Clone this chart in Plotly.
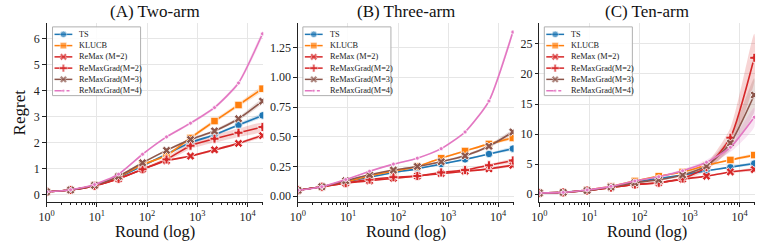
import numpy as np
import plotly.graph_objects as go

rounds = [1, 3, 9, 27, 81, 243, 729, 2187, 6561, 19683]
methods = ["TS", "KLUCB", "ReMax (M=2)", "ReMaxGrad(M=2)", "ReMaxGrad(M=3)", "ReMaxGrad(M=4)"]
colors = ["#1f77b4", "#ff7f0e", "#d62728", "#d62728", "#8c564b", "#e377c2"]
symbols = ["circle", "square", "x", "cross", "x", "circle"]
msizes = [7.5, 7.5, 7.5, 7.5, 7.5, 4]
titles = ["(A) Two-arm", "(B) Three-arm", "(C) Ten-arm"]

two_arm = [
    [0.10, 0.17, 0.33, 0.65, 1.10, 1.55, 2.00, 2.30, 2.68, 3.05],
    [0.10, 0.17, 0.35, 0.68, 1.15, 1.50, 2.18, 2.83, 3.45, 4.08],
    [0.10, 0.17, 0.33, 0.60, 0.97, 1.30, 1.48, 1.72, 1.97, 2.27],
    [0.10, 0.17, 0.33, 0.60, 0.97, 1.35, 1.88, 2.15, 2.38, 2.60],
    [0.10, 0.17, 0.35, 0.70, 1.22, 1.70, 2.12, 2.45, 2.92, 3.60],
    [0.10, 0.18, 0.38, 0.78, 1.55, 2.22, 2.75, 3.35, 4.30, 6.20],
]
three_arm = [
    [0.05, 0.08, 0.12, 0.16, 0.20, 0.23, 0.27, 0.31, 0.355, 0.40],
    [0.05, 0.08, 0.12, 0.17, 0.21, 0.25, 0.32, 0.38, 0.44, 0.49],
    [0.05, 0.08, 0.11, 0.13, 0.15, 0.17, 0.19, 0.21, 0.23, 0.26],
    [0.05, 0.08, 0.11, 0.14, 0.16, 0.17, 0.20, 0.22, 0.26, 0.30],
    [0.05, 0.08, 0.13, 0.18, 0.22, 0.25, 0.29, 0.34, 0.42, 0.54],
    [0.05, 0.08, 0.14, 0.21, 0.27, 0.32, 0.40, 0.54, 0.80, 1.38],
]
ten_arm = [
    [0.2, 0.3, 0.7, 1.2, 2.0, 2.6, 3.2, 3.9, 4.5, 5.1],
    [0.2, 0.3, 0.7, 1.3, 2.2, 3.0, 3.7, 4.8, 5.7, 6.5],
    [0.2, 0.3, 0.6, 1.1, 1.6, 1.9, 2.5, 3.0, 3.7, 4.1],
    [0.2, 0.3, 0.6, 1.1, 1.6, 1.9, 2.6, 4.5, 9.4, 22.7],
    [0.2, 0.3, 0.6, 1.2, 1.9, 2.4, 3.2, 4.7, 8.5, 16.5],
    [0.2, 0.3, 0.7, 1.3, 2.2, 2.9, 3.9, 5.3, 7.8, 12.8],
]
# half-widths of the shaded bands
two_arm_band = [
    [0, 0, 0.01, 0.02, 0.03, 0.04, 0.05, 0.05, 0.06, 0.06],
    [0, 0, 0.01, 0.02, 0.03, 0.05, 0.07, 0.08, 0.08, 0.08],
    [0, 0, 0.01, 0.02, 0.02, 0.03, 0.03, 0.04, 0.04, 0.05],
    [0, 0, 0.01, 0.02, 0.04, 0.08, 0.13, 0.15, 0.16, 0.16],
    [0, 0, 0.01, 0.02, 0.03, 0.04, 0.05, 0.06, 0.07, 0.08],
    [0, 0, 0.01, 0.02, 0.03, 0.04, 0.05, 0.06, 0.08, 0.10],
]
three_arm_band = [
    [0, 0, 0.003, 0.004, 0.005, 0.006, 0.007, 0.008, 0.009, 0.010],
    [0, 0, 0.003, 0.004, 0.005, 0.006, 0.008, 0.009, 0.010, 0.012],
    [0, 0, 0.003, 0.004, 0.005, 0.006, 0.006, 0.007, 0.008, 0.009],
    [0, 0, 0.003, 0.004, 0.005, 0.006, 0.007, 0.008, 0.010, 0.012],
    [0, 0, 0.003, 0.004, 0.005, 0.006, 0.008, 0.010, 0.012, 0.015],
    [0, 0, 0.003, 0.004, 0.005, 0.006, 0.008, 0.010, 0.015, 0.020],
]
ten_arm_band = [
    [0, 0, 0.05, 0.05, 0.08, 0.1, 0.1, 0.12, 0.15, 0.18],
    [0, 0, 0.05, 0.05, 0.08, 0.1, 0.12, 0.15, 0.18, 0.2],
    [0, 0, 0.05, 0.05, 0.08, 0.1, 0.1, 0.12, 0.15, 0.18],
    [0, 0, 0.05, 0.05, 0.1, 0.15, 0.25, 0.6, 1.6, 4.0],
    [0, 0, 0.05, 0.05, 0.1, 0.15, 0.25, 0.5, 1.2, 2.8],
    [0, 0, 0.05, 0.05, 0.1, 0.15, 0.25, 0.4, 0.8, 1.6],
]
panels = [two_arm, three_arm, ten_arm]
bands = [two_arm_band, three_arm_band, ten_arm_band]
y_ranges = [[-0.3, 6.62], [-0.05, 1.457], [-1.33, 28.5]]
y_ticks = [
    [0, 1, 2, 3, 4, 5, 6],
    [0, 0.25, 0.5, 0.75, 1.0, 1.25],
    [0, 5, 10, 15, 20, 25],
]
y_ticktext = [
    ["0", "1", "2", "3", "4", "5", "6"],
    ["0.00", "0.25", "0.50", "0.75", "1.00", "1.25"],
    ["0", "5", "10", "15", "20", "25"],
]
x_ticks = [1, 10, 100, 1000, 10000]
x_ticktext = ["10<sup>0</sup>", "10<sup>1</sup>", "10<sup>2</sup>", "10<sup>3</sup>", "10<sup>4</sup>"]

W, H = 761, 245
x_domains = [[39 / W, 258 / W], [293 / W, 511 / W], [537 / W, 755 / W]]
y_domain = [1 - 203 / H, 1 - 23 / H]
legend_left_px = [45, 298, 542]
legend_top_px = 27
legend_w_px, legend_h_px = 89, 69

FONT = "Liberation Serif"


def rgba(hexc, a):
    h = hexc.lstrip("#")
    return f"rgba({int(h[0:2],16)},{int(h[2:4],16)},{int(h[4:6],16)},{a})"


fig = go.Figure()
minor_vals = [m * 10 ** d for d in range(0, 5) for m in range(2, 10) if m * 10 ** d <= 20000]

for p in range(3):
    xa = "x" if p == 0 else f"x{p+1}"
    ya = "y" if p == 0 else f"y{p+1}"
    for i, name in enumerate(methods):
        vals = np.array(panels[p][i])
        bw = np.array(bands[p][i])
        fig.add_trace(go.Scatter(
            x=rounds + rounds[::-1],
            y=list(vals + bw) + list((vals - bw)[::-1]),
            xaxis=xa, yaxis=ya, fill="toself", fillcolor=rgba(colors[i], 0.2),
            line=dict(width=0, shape="spline", smoothing=0.6), mode="lines",
            hoverinfo="skip", showlegend=False,
        ))
    for i, name in enumerate(methods):
        fig.add_trace(go.Scatter(
            x=rounds, y=panels[p][i], name=name, xaxis=xa, yaxis=ya,
            mode="lines+markers",
            line=dict(color=colors[i], width=1.6, shape="spline", smoothing=0.6),
            marker=dict(symbol=symbols[i], size=msizes[i], color=colors[i],
                        line=dict(color="white", width=0.8)),
            showlegend=False,
        ))

# hand-drawn legends on an overlay axis measured in pixels
annotations = []
for p in range(3):
    L = legend_left_px[p]
    T = legend_top_px
    fig.add_trace(go.Scatter(
        x=[L, L + legend_w_px, L + legend_w_px, L, L],
        y=[T, T, T + legend_h_px, T + legend_h_px, T],
        xaxis="x4", yaxis="y4", mode="lines", fill="toself",
        fillcolor="rgba(255,255,255,0.85)", line=dict(color="#b0b0b0", width=1),
        hoverinfo="skip", showlegend=False,
    ))
    for i, name in enumerate(methods):
        yy = T + 7.5 + 11.3 * i
        fig.add_trace(go.Scatter(
            x=[L + 2, L + 11, L + 20], y=[yy, yy, yy], xaxis="x4", yaxis="y4",
            mode="lines+markers",
            line=dict(color=colors[i], width=1.5, dash="dashdot" if i == 5 else "solid"),
            marker=dict(symbol=symbols[i], size=[0, msizes[i] - 1, 0], color=colors[i],
                        line=dict(color="white", width=0.6)),
            hoverinfo="skip", showlegend=False,
        ))
        annotations.append(dict(
            text=name, x=L + 25, y=yy, xref="x4", yref="y4", xanchor="left", yanchor="middle",
            showarrow=False, font=dict(size=8.3, family=FONT, color="#222"),
        ))

layout = dict(
    width=W, height=H, margin=dict(l=0, r=0, t=0, b=0),
    plot_bgcolor="rgba(0,0,0,0)", paper_bgcolor="white",
    font=dict(family=FONT, color="#222"),
    showlegend=False,
)
for p in range(3):
    sx = "xaxis" if p == 0 else f"xaxis{p+1}"
    sy = "yaxis" if p == 0 else f"yaxis{p+1}"
    ya = "y" if p == 0 else f"y{p+1}"
    xa = "x" if p == 0 else f"x{p+1}"
    layout[sx] = dict(
        type="log", domain=x_domains[p], anchor=ya, range=[0, 4.31],
        tickvals=x_ticks, ticktext=x_ticktext, ticks="outside", ticklen=3.5,
        tickcolor="#222", tickfont=dict(size=12, family=FONT, color="#222"),
        showline=True, linecolor="#222", linewidth=1, mirror=False,
        showgrid=True, gridcolor="#e6e6e6", gridwidth=1, zeroline=False,
        minor=dict(tickvals=minor_vals, ticks="outside", ticklen=2, tickcolor="#222", showgrid=False),
    )
    layout[sy] = dict(
        domain=y_domain, anchor=xa, range=y_ranges[p],
        tickvals=y_ticks[p], ticktext=y_ticktext[p], ticks="outside", ticklen=3.5,
        tickcolor="#222", tickfont=dict(size=12, family=FONT, color="#222"),
        showline=True, linecolor="#222", linewidth=1,
        showgrid=True, gridcolor="#e6e6e6", gridwidth=1, zeroline=False,
    )
    cx = (x_domains[p][0] + x_domains[p][1]) / 2
    annotations.append(dict(
        text=titles[p], x=cx, y=1 - 12 / H, xref="paper", yref="paper",
        showarrow=False, font=dict(size=17, family=FONT, color="#111"),
        xanchor="center", yanchor="middle",
    ))
    annotations.append(dict(
        text="Round (log)", x=cx, y=1 - 232 / H, xref="paper", yref="paper",
        showarrow=False, font=dict(size=16.5, family=FONT, color="#111"),
        xanchor="center", yanchor="middle",
    ))
annotations.append(dict(
    text="Regret", x=12 / W, y=(y_domain[0] + y_domain[1]) / 2, xref="paper", yref="paper",
    showarrow=False, textangle=-90, font=dict(size=17, family=FONT, color="#111"),
    xanchor="center", yanchor="middle",
))
layout["xaxis4"] = dict(domain=[0, 1], range=[0, W], visible=False, anchor="y4", fixedrange=True)
layout["yaxis4"] = dict(domain=[0, 1], range=[H, 0], visible=False, anchor="x4", fixedrange=True)
layout["annotations"] = annotations
fig.update_layout(**layout)
fig.write_html("out.html")
